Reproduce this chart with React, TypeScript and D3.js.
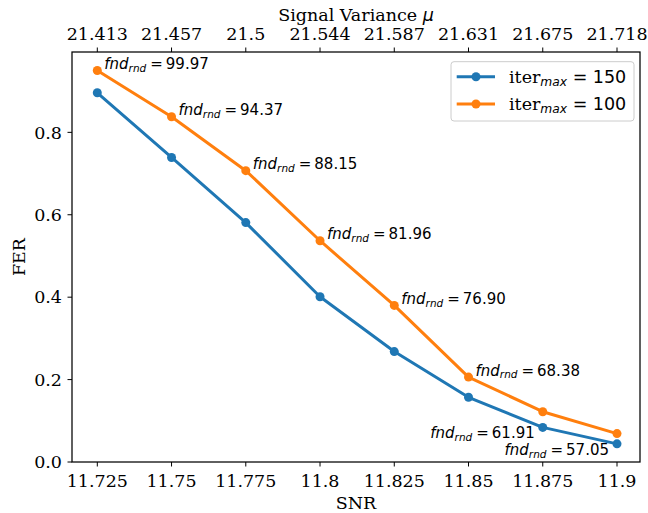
import React from "react";
import * as d3 from "d3";

const snr = [11.725, 11.75, 11.775, 11.8, 11.825, 11.85, 11.875, 11.9];
const snrLabels = ["11.725", "11.75", "11.775", "11.8", "11.825", "11.85", "11.875", "11.9"];
const varianceLabels = ["21.413", "21.457", "21.5", "21.544", "21.587", "21.631", "21.675", "21.718"];
const fer150 = [0.896, 0.739, 0.581, 0.401, 0.268, 0.157, 0.084, 0.044];
const fer100 = [0.95, 0.838, 0.707, 0.537, 0.38, 0.206, 0.122, 0.069];
const fndRnd = ["99.97", "94.37", "88.15", "81.96", "76.90", "68.38", "61.91", "57.05"];
// which series the annotation sits on: "100" (above-right) or "150" (below-left)
const fndSeries = ["100", "100", "100", "100", "100", "100", "150", "150"];
const yTicks = [0, 0.2, 0.4, 0.6, 0.8];

const W = 648;
const H = 513;
const L = 72, R = 640, T = 52, B = 462;
const BLUE = "#1f77b4";
const ORANGE = "#ff7f0e";
const SERIF = "'DejaVu Serif', serif";
const SANS = "'DejaVu Sans', sans-serif";

export default function App() {
  const x = d3.scaleLinear().domain([snr[0], snr[snr.length - 1]]).range([97.3, 617]);
  const y = d3.scaleLinear().domain([0, 0.995]).range([B, T]);
  const line = d3
    .line<number>()
    .x((_, i) => x(snr[i]))
    .y((d) => y(d));

  const series = [
    { key: "150", data: fer150, color: BLUE },
    { key: "100", data: fer100, color: ORANGE },
  ];

  const fs = 17.5;
  const afs = 15;

  return (
    <svg width={W} height={H} style={{ position: "absolute", left: 0, top: 0 }} xmlns="http://www.w3.org/2000/svg">
      <rect x={0} y={0} width={W} height={H} fill="white" />
      {/* series */}
      {series.map((s) => (
        <g key={s.key}>
          <path d={line(s.data) || ""} fill="none" stroke={s.color} strokeWidth={3} strokeLinejoin="round" />
          {s.data.map((d, i) => (
            <circle key={i} cx={x(snr[i])} cy={y(d)} r={4.5} fill={s.color} />
          ))}
        </g>
      ))}
      {/* annotations */}
      {fndRnd.map((v, i) => {
        const on100 = fndSeries[i] === "100";
        const px = x(snr[i]);
        const py = y(on100 ? fer100[i] : fer150[i]);
        return (
          <text
            key={i}
            x={on100 ? px + 7 : px - 8}
            y={on100 ? py - 1.5 : py + 11}
            fontFamily={SANS}
            fontSize={afs}
            textAnchor={on100 ? "start" : "end"}
            fill="black"
          >
            <tspan fontStyle="italic">fnd</tspan>
            <tspan fontStyle="italic" fontSize={afs * 0.7} dy={2.8}>rnd</tspan>
            <tspan dy={-2.8} dx={4}>=</tspan>
            <tspan dx={3}>{v}</tspan>
          </text>
        );
      })}
      {/* spines */}
      <rect x={L} y={T} width={R - L} height={B - T} fill="none" stroke="black" strokeWidth={1.25} />
      {/* bottom ticks */}
      {snr.map((v, i) => (
        <g key={"b" + i}>
          <line x1={x(v)} x2={x(v)} y1={B} y2={B + 4.5} stroke="black" strokeWidth={1} />
          <text x={x(v)} y={486.7} textAnchor="middle" fontFamily={SERIF} fontSize={fs}>
            {snrLabels[i]}
          </text>
        </g>
      ))}
      {/* top ticks */}
      {snr.map((v, i) => (
        <g key={"t" + i}>
          <line x1={x(v)} x2={x(v)} y1={T} y2={T - 4.5} stroke="black" strokeWidth={1} />
          <text x={x(v)} y={40} textAnchor="middle" fontFamily={SERIF} fontSize={fs}>
            {varianceLabels[i]}
          </text>
        </g>
      ))}
      {/* left ticks */}
      {yTicks.map((v, i) => (
        <g key={"l" + i}>
          <line x1={L} x2={L - 4.5} y1={y(v)} y2={y(v)} stroke="black" strokeWidth={1} />
          <text x={L - 10} y={y(v) + 6.3} textAnchor="end" fontFamily={SERIF} fontSize={fs}>
            {v.toFixed(1)}
          </text>
        </g>
      ))}
      {/* axis labels */}
      <text x={(L + R) / 2} y={509.3} textAnchor="middle" fontFamily={SERIF} fontSize={fs}>
        SNR
      </text>
      <text
        transform={`translate(25,${(T + B) / 2}) rotate(-90)`}
        textAnchor="middle"
        fontFamily={SERIF}
        fontSize={fs}
      >
        FER
      </text>
      <text x={(L + R) / 2} y={20.7} textAnchor="middle" fontFamily={SERIF} fontSize={fs}>
        Signal Variance <tspan fontFamily={SANS} fontStyle="italic">μ</tspan>
      </text>
      {/* legend */}
      <g>
        <rect x={451} y={61.7} width={183} height={59.3} rx={3} fill="white" fillOpacity={0.8} stroke="#cccccc" strokeWidth={1} />
        {series.map((s, i) => {
          const cy = 76.7 + i * 27.3;
          return (
            <g key={"lg" + i}>
              <line x1={456.7} x2={495} y1={cy} y2={cy} stroke={s.color} strokeWidth={3} />
              <circle cx={476} cy={cy} r={4.5} fill={s.color} />
              <text x={509} y={cy + 6} fontFamily={SERIF} fontSize={fs}>
                iter
                <tspan fontFamily={SANS} fontStyle="italic" fontSize={fs * 0.7} dy={3}>max</tspan>
                <tspan fontFamily={SANS} dy={-3}>{" = " + s.key}</tspan>
              </text>
            </g>
          );
        })}
      </g>
    </svg>
  );
}
